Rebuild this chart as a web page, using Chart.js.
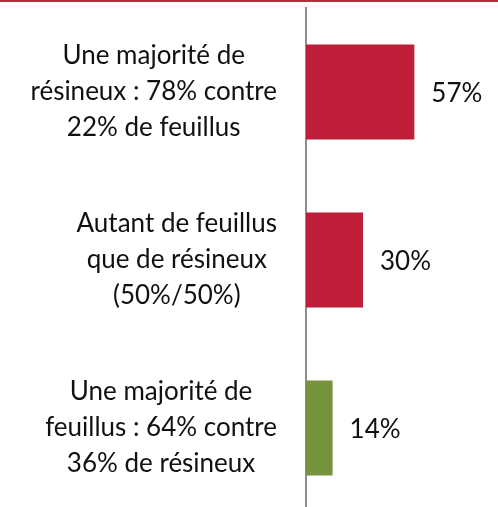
<!DOCTYPE html>
<html>
<head>
<meta charset="utf-8">
<script src="https://cdn.jsdelivr.net/npm/chart.js@4/dist/chart.umd.min.js"></script>
<style>
  html, body { margin: 0; padding: 0; background: #fff; overflow: hidden; }
  #barre { height: 2px; background: #c0283c; width: 498px; position: absolute; top: 0; left: 0; }
  #cadre { position: absolute; top: 0; left: 0; width: 498px; height: 512px; }
</style>
</head>
<body>
<div id="cadre"><canvas id="graphique" width="498" height="512"></canvas></div>
<div id="barre"></div>
<script>
const categories = [
  ['Une majorité de', 'résineux : 78% contre', '22% de feuillus'],
  ['Autant de feuillus', 'que de résineux', '(50%/50%)'],
  ['Une majorité de', 'feuillus : 64% contre', '36% de résineux']
];
const valeurs = [57, 30, 14];
const couleurs = ['#be1e38', '#be1e38', '#76923c'];

// etiquettes des valeurs a droite des barres
const etiquettes = {
  id: 'etiquettes',
  afterDatasetsDraw(chart) {
    const ctx = chart.ctx;
    const meta = chart.getDatasetMeta(0);
    ctx.save();
    ctx.font = '26px Lato';
    ctx.fillStyle = '#111';
    ctx.textAlign = 'left';
    ctx.textBaseline = 'middle';
    meta.data.forEach(function(barre, i) {
      ctx.fillText(valeurs[i] + '%', barre.x + 17, barre.y + 2);
    });
    ctx.restore();
  }
};

// libelles : bloc aligne a droite, lignes centrees dans le bloc
const libelles = {
  id: 'libelles',
  afterDraw(chart) {
    const ctx = chart.ctx;
    const echelle = chart.scales.y;
    const bordDroit = echelle.right - 29;
    const interligne = 36;
    ctx.save();
    ctx.font = '26px Lato';
    ctx.fillStyle = '#111';
    ctx.textAlign = 'center';
    ctx.textBaseline = 'middle';
    chart.data.labels.forEach(function(lignes, i) {
      const yc = echelle.getPixelForTick(i);
      const large = Math.max.apply(null, lignes.map(l => ctx.measureText(l).width));
      const xc = bordDroit - large / 2;
      lignes.forEach(function(l, k) {
        ctx.fillText(l, xc, yc + (k - (lignes.length - 1) / 2) * interligne);
      });
    });
    ctx.restore();
  }
};

new Chart(document.getElementById('graphique'), {
  type: 'bar',
  data: {
    labels: categories,
    datasets: [{
      data: valeurs,
      backgroundColor: couleurs,
      borderWidth: 0,
      categoryPercentage: 1,
      barPercentage: 0.565
    }]
  },
  plugins: [etiquettes, libelles],
  options: {
    indexAxis: 'y',
    responsive: false,
    animation: false,
    layout: { padding: { top: 8, right: 0, bottom: 0, left: 0 } },
    plugins: { legend: { display: false }, tooltip: { enabled: false } },
    scales: {
      x: { display: false, min: 0, max: 101 },
      y: {
        afterFit: function(scale) {
          scale.width = 306;
          scale.paddingTop = 0;
          scale.paddingBottom = 0;
        },
        grid: { display: false, drawTicks: false },
        border: { display: true, color: '#8c8c8c', width: 2 },
        ticks: { display: false }
      }
    }
  }
});
</script>
</body>
</html>
